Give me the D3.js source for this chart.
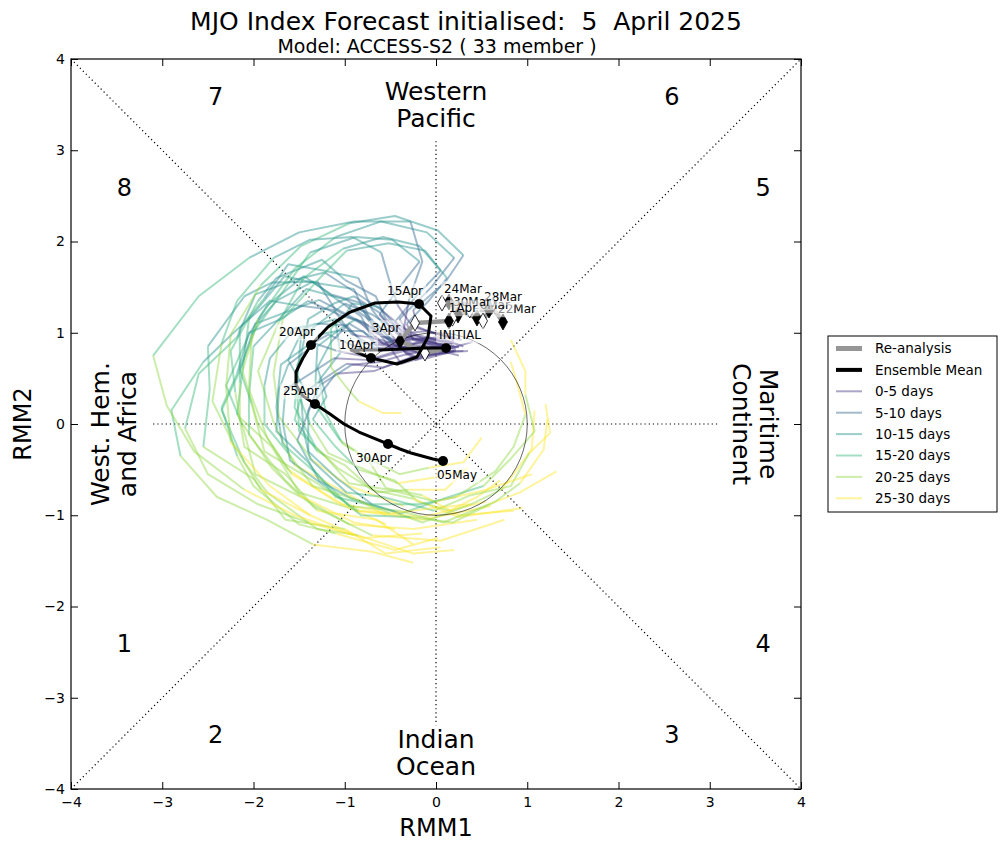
<!DOCTYPE html>
<html lang="en">
<head>
<meta charset="UTF-8">
<title>MJO Index Forecast</title>
<script src="https://d3js.org/d3.v7.min.js"></script>
<style>
  body { margin: 0; background: #fff; }
  svg { font-family: "DejaVu Sans", sans-serif; }
</style>
</head>
<body>
<svg id="chart" width="1006" height="850"></svg>
<script>
// re-analysis, 22 Mar .. 5 Apr (daily)
var obsDates = ["22Mar","23Mar","24Mar","25Mar","26Mar","27Mar","28Mar","29Mar","30Mar","31Mar","1Apr","2Apr","3Apr","4Apr","INITIAL"]
var obsX = [0.734, 0.61, 0.142, 0.066, 0.449, 0.515, 0.581, 0.37, 0.241, 0.18, 0.142, -0.23, -0.395, -0.121, 0.11]
var obsY = [1.118, 1.29, 1.337, 1.326, 1.162, 1.129, 1.249, 1.25, 1.195, 1.16, 1.129, 1.107, 0.91, 0.778, 0.833]

// ensemble mean, 5 Apr .. 5 May (daily)
var emX = [0.11, -0.121, -0.362, -0.614, -0.931, -0.712, -0.427, -0.208, -0.088, -0.055, -0.186,
  -0.416, -0.668, -0.942, -1.184, -1.37, -1.458, -1.534, -1.534, -1.458, -1.326,
  -1.162, -1.008, -0.844, -0.69, -0.526, -0.395, -0.274, -0.153, -0.033, 0.077]
var emY = [0.833, 0.833, 0.822, 0.811, 0.811, 0.723, 0.658, 0.734, 0.953, 1.184, 1.315,
  1.337, 1.326, 1.227, 1.063, 0.866, 0.723, 0.57, 0.427, 0.307, 0.219,
  0.11, 0.0, -0.088, -0.153, -0.219, -0.274, -0.318, -0.351, -0.384, -0.405]
var emLabels = {5: "10Apr", 10: "15Apr", 15: "20Apr", 20: "25Apr", 25: "30Apr", 30: "05May"}

// 33 members, one point every 2 days (day 0 .. 30)
var members = [
  [[0.15,0.85],[-0.12,0.80],[-0.40,0.90],[-0.66,1.00],[-0.80,1.32],[-1.15,1.42],[-1.45,1.62],[-1.85,1.30],[-2.05,0.98],[-2.30,0.42],[-2.12,-0.02],[-1.98,-0.55],[-1.48,-0.80],[-0.95,-1.10],[-0.25,-1.15],[0.45,-1.05]],
  [[0.22,0.80],[-0.05,0.76],[-0.38,0.66],[-0.55,0.90],[-0.75,1.15],[-0.90,1.48],[-1.35,1.55],[-1.66,1.62],[-2.05,1.15],[-2.10,0.75],[-2.18,0.10],[-1.80,-0.25],[-1.50,-0.75],[-0.85,-0.95],[-0.15,-1.05],[0.60,-0.90]],
  [[0.08,0.90],[-0.22,0.98],[-0.58,0.88],[-0.82,1.10],[-1.10,1.25],[-1.30,1.56],[-1.80,1.55],[-2.10,1.40],[-2.50,0.85],[-2.48,0.38],[-2.55,-0.25],[-2.00,-0.60],[-1.65,-1.05],[-1.00,-1.15],[-0.55,-1.42],[0.05,-1.35]],
  [[0.30,0.85],[0.02,0.95],[-0.22,0.92],[-0.55,1.15],[-0.66,1.40],[-1.00,1.58],[-1.25,1.80],[-1.75,1.60],[-1.95,1.35],[-2.25,0.80],[-2.20,0.35],[-2.10,-0.25],[-1.65,-0.55],[-1.30,-0.95],[-0.65,-1.05],[-0.25,-1.32]],
  [[0.12,0.84],[-0.15,0.90],[-0.45,0.82],[-0.70,0.95],[-0.95,1.10],[-1.15,0.90],[-1.30,0.62],[-1.20,0.30],[-1.35,0.05],[-1.10,-0.25],[-0.85,-0.50],[-0.45,-0.62],[-0.20,-0.85],[0.15,-0.95],[0.45,-0.80],[0.70,-0.62]],
  [[0.40,0.90],[0.12,0.82],[-0.25,0.86],[-0.48,0.92],[-0.78,1.22],[-0.98,1.36],[-1.42,1.48],[-1.72,1.15],[-2.00,0.85],[-2.05,0.30],[-2.05,-0.12],[-1.65,-0.62],[-1.35,-0.90],[-0.70,-1.22],[0.05,-1.28],[0.75,-1.05]],
  [[0.18,0.88],[-0.10,0.94],[-0.35,0.84],[-0.70,1.02],[-0.88,1.15],[-1.28,1.36],[-1.58,1.25],[-1.98,1.10],[-2.15,0.58],[-2.35,0.15],[-2.10,-0.42],[-1.85,-0.75],[-1.30,-1.15],[-0.85,-1.22],[-0.25,-1.42],[0.20,-1.38]],
  [[0.20,0.80],[-0.10,0.72],[-0.35,0.88],[-0.62,0.80],[-0.85,0.95],[-1.10,1.15],[-1.45,1.05],[-1.62,0.70],[-1.45,0.40],[-1.55,0.05],[-1.30,-0.30],[-1.00,-0.45],[-0.70,-0.72],[-0.25,-0.82],[0.25,-1.02],[0.95,-0.92]],
  [[0.25,0.75],[-0.02,0.82],[-0.32,0.76],[-0.52,1.02],[-0.70,1.25],[-0.85,1.60],[-1.22,1.68],[-1.62,1.75],[-1.88,1.38],[-2.15,1.05],[-2.15,0.45],[-2.15,0.05],[-1.80,-0.48],[-1.50,-0.78],[-0.90,-1.08],[-0.45,-1.15]],
  [[0.10,0.86],[-0.22,0.94],[-0.48,0.90],[-0.80,1.12],[-1.02,1.18],[-1.40,1.35],[-1.70,1.15],[-2.05,1.00],[-2.18,0.55],[-2.35,0.18],[-2.18,-0.35],[-2.00,-0.68],[-1.50,-1.10],[-1.10,-1.20],[-0.45,-1.38],[0.02,-1.25]],
  [[0.20,0.92],[-0.08,1.02],[-0.30,1.00],[-0.60,1.25],[-0.82,1.40],[-1.22,1.66],[-1.55,1.58],[-1.98,1.42],[-2.18,0.95],[-2.60,0.55],[-2.75,-0.05],[-2.50,-0.55],[-1.95,-0.88],[-1.40,-1.08],[-0.78,-1.25],[-0.15,-1.20]],
  [[0.35,0.80],[0.05,0.78],[-0.22,0.70],[-0.48,0.90],[-0.60,1.05],[-0.88,1.25],[-1.10,1.12],[-1.05,0.78],[-1.28,0.48],[-1.20,0.10],[-1.02,-0.22],[-0.75,-0.38],[-0.55,-0.70],[-0.15,-0.78],[0.25,-1.00],[0.85,-0.95]],
  [[0.00,0.84],[-0.32,0.82],[-0.60,0.92],[-0.92,0.98],[-1.12,1.25],[-1.52,1.30],[-1.82,1.35],[-2.22,1.00],[-2.55,0.68],[-2.90,0.15],[-2.80,-0.35],[-2.40,-0.80],[-1.85,-1.05],[-1.35,-1.32],[-0.70,-1.40],[-0.25,-1.52]],
  [[0.20,0.86],[-0.10,0.80],[-0.35,0.84],[-0.68,0.90],[-0.82,1.18],[-1.08,1.36],[-1.35,1.56],[-1.75,1.35],[-1.95,1.12],[-2.15,0.60],[-2.02,0.22],[-1.88,-0.30],[-1.35,-0.62],[-0.85,-0.95],[-0.15,-1.02],[0.55,-0.85]],
  [[0.20,0.90],[-0.05,0.92],[-0.30,0.98],[-0.40,1.15],[-0.05,1.50],[0.20,1.82],[-0.10,2.10],[-0.60,2.22],[-1.10,2.05],[-1.55,1.70],[-1.95,1.15],[-2.12,0.58],[-1.95,0.00],[-1.62,-0.50],[-1.10,-0.85],[-0.55,-1.10]],
  [[0.15,0.85],[-0.10,0.90],[-0.35,0.96],[-0.45,1.12],[-0.20,1.42],[0.05,1.68],[-0.18,1.95],[-0.58,2.05],[-1.02,1.92],[-1.45,1.60],[-1.72,1.12],[-1.95,0.58],[-1.78,0.02],[-1.55,-0.45],[-1.00,-0.75],[-0.55,-1.00]],
  [[0.28,0.92],[0.05,0.98],[-0.20,1.05],[-0.25,1.25],[0.10,1.55],[0.30,1.85],[0.02,2.12],[-0.45,2.28],[-0.95,2.20],[-1.48,1.95],[-1.92,1.52],[-2.25,0.98],[-2.30,0.40],[-2.25,-0.20],[-1.82,-0.68],[-1.38,-1.00]],
  [[0.10,0.88],[-0.18,0.92],[-0.42,0.98],[-0.62,1.20],[-0.40,1.50],[-0.18,1.78],[-0.48,2.02],[-0.88,2.05],[-1.38,1.88],[-1.70,1.42],[-2.02,0.98],[-2.05,0.38],[-1.85,-0.15],[-1.58,-0.55],[-1.02,-0.88],[-0.52,-0.98]],
  [[0.22,0.82],[-0.02,0.86],[-0.25,0.92],[-0.32,1.10],[-0.08,1.35],[0.12,1.60],[-0.12,1.90],[-0.52,1.98],[-0.98,1.90],[-1.32,1.55],[-1.68,1.15],[-1.78,0.55],[-1.72,0.08],[-1.35,-0.40],[-0.95,-0.68],[-0.35,-0.90]],
  [[0.18,0.95],[-0.05,1.00],[-0.28,1.10],[-0.42,1.30],[-0.52,1.60],[-0.60,1.88],[-0.92,2.05],[-1.38,2.02],[-1.78,1.82],[-2.18,1.35],[-2.35,0.88],[-2.45,0.25],[-2.22,-0.22],[-1.92,-0.72],[-1.38,-1.00],[-0.88,-1.22]],
  [[0.15,0.85],[-0.12,0.92],[-0.35,1.05],[-0.30,1.35],[-0.15,1.78],[-0.28,2.22],[-0.90,2.22],[-1.50,2.10],[-2.05,1.82],[-2.60,1.40],[-3.10,0.75],[-2.95,0.20],[-2.65,-0.30],[-2.10,-0.72],[-1.55,-1.00],[-0.90,-1.22]],
  [[0.10,0.80],[-0.30,0.84],[-0.68,0.72],[-1.08,0.80],[-1.32,0.88],[-1.62,0.65],[-1.72,0.38],[-1.75,-0.08],[-1.42,-0.40],[-1.10,-0.80],[-0.58,-0.92],[-0.15,-1.08],[0.38,-0.88],[0.72,-0.72],[1.05,-0.28],[1.08,0.15]],
  [[0.15,0.78],[-0.22,0.74],[-0.58,0.62],[-0.98,0.66],[-1.22,0.50],[-1.48,0.32],[-1.45,-0.08],[-1.38,-0.38],[-0.98,-0.75],[-0.58,-0.80],[-0.02,-0.95],[0.38,-0.78],[0.82,-0.68],[1.02,-0.32],[1.25,-0.10],[1.20,0.22]],
  [[0.25,0.85],[-0.10,0.80],[-0.52,0.84],[-0.82,0.82],[-1.18,0.98],[-1.42,0.85],[-1.70,0.65],[-1.75,0.18],[-1.68,-0.22],[-1.30,-0.55],[-0.95,-0.90],[-0.40,-0.95],[0.08,-1.08],[0.58,-0.88],[0.92,-0.75],[1.32,-0.52]],
  [[0.05,0.82],[-0.35,0.80],[-0.72,0.70],[-1.12,0.72],[-1.38,0.55],[-1.65,0.38],[-1.68,0.02],[-1.60,-0.40],[-1.22,-0.68],[-0.82,-1.00],[-0.28,-1.02],[0.18,-1.08],[0.65,-0.85],[0.92,-0.65],[1.18,-0.28],[1.22,0.05]],
  [[0.20,0.80],[-0.25,0.74],[-0.68,0.58],[-1.10,0.55],[-1.38,0.18],[-1.52,-0.18],[-1.28,-0.62],[-0.92,-0.82],[-0.38,-0.98],[0.08,-0.82],[0.52,-0.68],[0.82,-0.38],[1.08,-0.08],[0.98,0.32],[0.98,0.58],[0.82,0.92]],
  [[0.15,0.85],[-0.20,0.80],[-0.62,0.68],[-0.92,0.65],[-1.28,0.42],[-1.40,0.15],[-1.40,-0.30],[-1.08,-0.60],[-0.70,-0.88],[-0.18,-0.88],[0.22,-0.80],[0.65,-0.52],[0.85,-0.25],[0.98,0.10],[0.88,0.48],[0.82,0.68]],
  [[0.12,0.82],[-0.15,0.78],[-0.38,0.82],[-0.62,0.82],[-0.80,1.02],[-1.08,1.02],[-1.28,0.98],[-1.52,0.65],[-1.52,0.35],[-1.50,-0.08],[-1.22,-0.35],[-0.95,-0.65],[-0.52,-0.72],[0.00,-0.85],[0.55,-0.72],[1.05,-0.55]],
  [[0.18,0.88],[-0.08,0.95],[-0.28,0.92],[-0.55,1.10],[-0.70,1.20],[-1.00,1.32],[-1.22,1.15],[-1.48,0.95],[-1.52,0.52],[-1.55,0.18],[-1.32,-0.25],[-1.08,-0.48],[-0.65,-0.75],[-0.30,-0.72],[0.10,-0.72],[0.35,-0.48]],
  [[0.30,0.80],[0.02,0.80],[-0.20,0.72],[-0.48,0.88],[-0.60,1.00],[-0.88,1.15],[-1.08,1.02],[-1.30,0.85],[-1.32,0.48],[-1.30,0.18],[-1.05,-0.18],[-0.80,-0.35],[-0.40,-0.55],[-0.08,-0.48],[0.30,-0.42],[0.50,-0.15]],
  [[0.08,0.86],[-0.22,0.82],[-0.48,0.86],[-0.80,0.88],[-0.98,1.08],[-1.30,1.10],[-1.55,1.05],[-1.82,0.72],[-1.88,0.42],[-1.88,0.00],[-1.62,-0.32],[-1.35,-0.68],[-0.90,-0.82],[-0.50,-0.98],[-0.02,-0.92],[0.38,-0.88]],
  [[0.25,0.84],[-0.02,0.88],[-0.26,0.88],[-0.52,1.08],[-0.62,1.22],[-0.90,1.40],[-1.12,1.32],[-1.40,1.15],[-1.48,0.75],[-1.55,0.42],[-1.38,0.00],[-1.18,-0.32],[-0.78,-0.50],[-0.42,-0.65],[0.02,-0.58],[0.32,-0.50]],
  [[0.15,0.82],[-0.08,0.86],[-0.25,0.84],[-0.42,1.00],[-0.48,1.12],[-0.62,1.28],[-0.72,1.30],[-0.92,1.32],[-1.00,1.18],[-1.15,1.05],[-1.15,0.82],[-1.15,0.62],[-0.98,0.40],[-0.85,0.25],[-0.58,0.12],[-0.38,0.12]]
]

var binLabels = ["0-5 days", "5-10 days", "10-15 days", "15-20 days", "20-25 days", "25-30 days"]
var phaseNums = ["1", "2", "3", "4", "5", "6", "7", "8"]
var phaseX = [-3.5, -2.5, 2.5, 3.5, 3.5, 2.5, -2.5, -3.5]
var phaseY = [-2.5, -3.5, -3.5, -2.5, 2.5, 3.5, 3.5, 2.5]
var ticks = [-4, -3, -2, -1, 0, 1, 2, 3, 4]

var svg = d3.select("#chart")
var axLeft = 71, axRight = 801, axTop = 59, axBottom = 789
var x = d3.scaleLinear().domain([-4, 4]).range([axLeft, axRight])
var y = d3.scaleLinear().domain([-4, 4]).range([axBottom, axTop])
var binColor = i => d3.interpolateViridis((i + 1) / 6)

// titles
svg.append("text").attr("x", 466).attr("y", 30).attr("text-anchor", "middle")
  .attr("font-size", "25px").style("white-space", "pre")
  .text("MJO Index Forecast initialised:  5  April 2025")
svg.append("text").attr("x", 437).attr("y", 53).attr("text-anchor", "middle")
  .attr("font-size", "19px").text("Model: ACCESS-S2 ( 33 member )")

var plot = svg.append("g")

// guide lines
var dotted = plot.append("g").attr("stroke", "#000").attr("stroke-width", 1.2)
  .attr("stroke-dasharray", "1.2,3").attr("fill", "none")
dotted.append("line").attr("x1", x(-4)).attr("y1", y(-4)).attr("x2", x(4)).attr("y2", y(4))
dotted.append("line").attr("x1", x(-4)).attr("y1", y(4)).attr("x2", x(4)).attr("y2", y(-4))
dotted.append("line").attr("x1", x(-3.1)).attr("y1", y(0)).attr("x2", x(3.1)).attr("y2", y(0))
dotted.append("line").attr("x1", x(0)).attr("y1", y(3.1)).attr("x2", x(0)).attr("y2", y(-3.3))

// members, coloured by lead time
var line = d3.line().x(d => x(d[0])).y(d => y(d[1]))
var memG = plot.append("g").attr("fill", "none").attr("stroke-width", 2)
  .attr("stroke-opacity", 0.45).attr("stroke-linejoin", "round")
members.forEach(function(m) {
  for (let b = 0; b < 6; b++) {
    let idx = d3.range(m.length - 1).filter(k => Math.min(5, Math.floor(2 * k / 5)) === b)
    if (!idx.length) continue
    let pts = m.slice(idx[0], idx[idx.length - 1] + 2)
    memG.append("path").attr("d", line(pts)).attr("stroke", binColor(b))
  }
})

// unit circle
plot.append("circle").attr("cx", x(0)).attr("cy", y(0)).attr("r", x(1) - x(0))
  .attr("fill", "none").attr("stroke", "#000").attr("stroke-width", 0.6)

// re-analysis
var obs = obsX.map((v, i) => [v, obsY[i]])
plot.append("path").attr("d", line(obs)).attr("fill", "none")
  .attr("stroke", "#969696").attr("stroke-width", 4.5).attr("stroke-linejoin", "round")
var diamond = "M0,-8L4.5,0L0,8L-4.5,0Z"
plot.selectAll(".obs").data(obs.slice(0, -1)).join("path")
  .attr("transform", d => `translate(${x(d[0])},${y(d[1])})`)
  .attr("d", diamond)
  .attr("fill", (d, i) => i % 2 ? "#fff" : "#000")
  .attr("stroke", "#000").attr("stroke-width", 0.8)

// ensemble mean
var em = emX.map((v, i) => [v, emY[i]])
plot.append("path").attr("d", line(em)).attr("fill", "none")
  .attr("stroke", "#000").attr("stroke-width", 3).attr("stroke-linejoin", "round")
plot.selectAll(".emdot").data(em.filter((d, i) => i % 5 === 0)).join("circle")
  .attr("cx", d => x(d[0])).attr("cy", d => y(d[1])).attr("r", 5).attr("fill", "#000")

// date labels with translucent boxes
var labG = svg.append("g").attr("font-size", "12px")
function dateLabel(p, txt) {
  let dx = p[0] >= 0 ? 14 : -14
  let dy = p[1] >= 0 ? -13 : 14
  let g = labG.append("g")
  let t = g.append("text").attr("x", x(p[0]) + dx).attr("y", y(p[1]) + dy)
    .attr("text-anchor", "middle").attr("dy", "0.36em").text(txt)
  let bb = t.node().getBBox()
  g.insert("rect", "text").attr("x", bb.x - 3).attr("y", bb.y - 1)
    .attr("width", bb.width + 6).attr("height", bb.height + 2)
    .attr("rx", 2).attr("fill", "#fff").attr("fill-opacity", 0.55)
}
obs.forEach((p, i) => { if (i % 2 === 0) dateLabel(p, obsDates[i]) })
Object.keys(emLabels).forEach(k => dateLabel(em[+k], emLabels[k]))

// phase numbers and regions
var txt = svg.append("g").attr("fill", "#000")
phaseNums.forEach((n, i) => {
  txt.append("text").attr("x", x(phaseX[i])).attr("y", y(phaseY[i]))
    .attr("font-size", "24px").text(n)
})
function block(lines, cx, cy, rot) {
  let t = txt.append("text").attr("font-size", "25px").attr("text-anchor", "middle")
    .attr("transform", `translate(${cx},${cy}) rotate(${rot})`)
  lines.forEach((l, i) => t.append("tspan").attr("x", 0)
    .attr("y", (i - (lines.length - 1) / 2) * 27 + 9).text(l))
}
block(["Western", "Pacific"], x(0), y(3.5), 0)
block(["Indian", "Ocean"], x(0), y(-3.6), 0)
block(["West. Hem.", "and Africa"], x(-3.53), 434, -90)
block(["Maritime", "Continent"], x(3.5), y(0), 90)

// axes
function styleAxis(g) {
  g.select(".domain").remove()
  g.selectAll(".tick line").attr("stroke", "#000").attr("stroke-width", 1)
  g.selectAll(".tick text").attr("font-size", "14px").attr("fill", "#000")
    .attr("font-family", "DejaVu Sans, sans-serif")
}
svg.append("g").attr("transform", `translate(0,${axBottom})`)
  .call(d3.axisBottom(x).tickValues(ticks).tickSize(-7).tickPadding(8)).call(styleAxis)
svg.append("g").attr("transform", `translate(0,${axTop})`)
  .call(d3.axisTop(x).tickValues(ticks).tickSize(-7).tickFormat("")).call(styleAxis)
svg.append("g").attr("transform", `translate(${axLeft},0)`)
  .call(d3.axisLeft(y).tickValues(ticks).tickSize(-7).tickPadding(6)).call(styleAxis)
svg.append("g").attr("transform", `translate(${axRight},0)`)
  .call(d3.axisRight(y).tickValues(ticks).tickSize(-7).tickFormat("")).call(styleAxis)
svg.append("rect").attr("x", axLeft).attr("y", axTop).attr("width", axRight - axLeft)
  .attr("height", axBottom - axTop).attr("fill", "none").attr("stroke", "#000").attr("stroke-width", 1.2)

svg.append("text").attr("x", x(0)).attr("y", 836).attr("text-anchor", "middle")
  .attr("font-size", "24px").text("RMM1")
svg.append("text").attr("transform", `translate(31,${y(0)}) rotate(-90)`)
  .attr("text-anchor", "middle").attr("font-size", "24px").text("RMM2")

// legend
var lg = svg.append("g").attr("font-size", "13.5px")
lg.append("rect").attr("x", 828).attr("y", 336).attr("width", 169).attr("height", 176)
  .attr("fill", "#fff").attr("stroke", "#000").attr("stroke-width", 1)
var legItems = [{label: "Re-analysis", color: "#969696", w: 5, op: 1},
  {label: "Ensemble Mean", color: "#000", w: 4, op: 1}]
  .concat(binLabels.map((l, i) => ({label: l, color: binColor(i), w: 2, op: 0.45})))
legItems.forEach((d, i) => {
  let yy = 348.5 + i * 21.4
  lg.append("line").attr("x1", 836).attr("x2", 862).attr("y1", yy).attr("y2", yy)
    .attr("stroke", d.color).attr("stroke-width", d.w).attr("stroke-opacity", d.op)
  lg.append("text").attr("x", 875).attr("y", yy).attr("dy", "0.36em").text(d.label)
})
</script>
</body>
</html>
